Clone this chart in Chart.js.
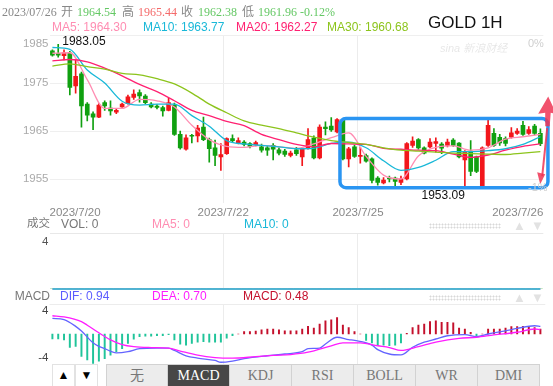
<!DOCTYPE html>
<html>
<head>
<meta charset="utf-8">
<script src="https://cdn.jsdelivr.net/npm/chart.js@4/dist/chart.umd.min.js"></script>
<style>
  body { margin: 0; width: 553px; height: 386px; overflow: hidden; background: #fff; position: relative;
         font-family: 'Liberation Sans', Arial, 'Noto Sans CJK SC', sans-serif; }
  canvas { position: absolute; left: 0; }
  .t { position: absolute; white-space: nowrap; line-height: 1; }
  .serif { font-family: 'Liberation Serif', 'Noto Sans CJK SC', serif; font-size: 12px; }
  .grab { position: absolute; height: 6px; width: 72px;
          background-image: radial-gradient(#d8d8d8 0.9px, transparent 1.1px); background-size: 3px 3px; }
  .btn { position: absolute; top: 364px; height: 21px; width: 21px; border: 1px solid #e2e2e2; background: #fff;
         font-size: 12px; text-align: center; line-height: 21px; color: #000; }
  #tabs { position: absolute; left: 106px; top: 364px; height: 22px; display: flex; }
  #tabs div { width: 61px; height: 21px; border: 1px solid #d2d2d2; border-left: none; background: #ececec;
              font-family: 'Liberation Serif', 'Noto Sans CJK SC', serif; font-size: 14px; color: #777;
              text-align: center; line-height: 21px; }
  #tabs div:first-child { border-left: 1px solid #d2d2d2; width: 60px; }
  #tabs div.on { background: #474747; color: #fff; }
</style>
</head>
<body>
<canvas id="main" width="553" height="222" style="top:0"></canvas>
<canvas id="vol" width="553" height="67" style="top:228px"></canvas>
<canvas id="macd" width="553" height="66" style="top:298px"></canvas>

<div id="overlay"></div>

<script>
// --- candle data (1H gold) ---
const opens = [1981.7,1981.2,1980.7,1981.3,1974.4,1976.9,1970.6,1968.6,1967.9,1970.9,
  1969.8,1968.9,1970.0,1970.7,1972.0,1973.0,1972.3,1970.6,1970.2,1969.9,
  1969.3,1970.4,1964.3,1961.2,1964.1,1964.0,1965.8,1963.2,1961.5,1959.6,
  1960.3,1963.4,1962.5,1962.7,1962.4,1962.1,1961.7,1961.5,1962.0,1961.1,
  1960.8,1959.9,1961.1,1959.6,1961.4,1963.5,1959.4,1965.8,1966.0,1964.8,
  1967.2,1959.2,1961.7,1959.7,1959.9,1959.2,1955.2,1954.2,1955.2,1955.2,
  1954.3,1955.0,1962.0,1963.2,1961.5,1961.7,1962.4,1962.3,1962.0,1963.1,
  1962.5,1959.0,1960.8,1959.6,1953.3,1962.0,1964.5,1963.7,1963.4,1963.7,
  1964.5,1966.2,1964.5,1966.0,1964.54];
const highs = [1981.9,1983.05,1981.9,1981.6,1979.8,1977.3,1970.9,1969.0,1970.7,1971.3,
  1971.3,1969.6,1970.8,1972.5,1973.6,1973.6,1972.6,1970.9,1970.5,1970.2,
  1971.8,1970.8,1965.0,1964.2,1964.3,1966.2,1967.9,1963.5,1963.1,1962.4,
  1963.6,1964.2,1963.6,1963.0,1962.6,1962.9,1962.3,1961.8,1962.4,1961.5,
  1961.2,1960.8,1961.6,1961.6,1965.5,1964.0,1966.3,1966.9,1967.8,1967.6,
  1967.4,1961.6,1962.0,1961.6,1960.2,1959.4,1955.5,1955.3,1955.6,1955.4,
  1955.6,1962.6,1963.8,1963.4,1961.7,1963.4,1963.6,1962.6,1963.3,1963.4,
  1962.6,1960.9,1963.0,1959.8,1961.7,1967.3,1965.5,1964.3,1963.8,1965.7,
  1965.5,1967.0,1965.9,1966.4,1965.44];
const lows = [1980.6,1980.4,1979.8,1972.5,1972.9,1965.8,1967.1,1965.3,1967.8,1969.3,
  1968.3,1968.6,1969.9,1970.6,1971.6,1971.0,1970.7,1969.8,1969.6,1968.1,
  1969.2,1964.1,1961.2,1961.0,1962.5,1962.7,1963.0,1958.5,1957.8,1956.8,
  1960.1,1962.8,1962.3,1961.9,1961.5,1961.9,1960.6,1959.9,1959.0,1960.0,
  1959.7,1959.6,1959.9,1957.8,1961.2,1959.2,1959.2,1964.2,1964.9,1964.6,
  1959.0,1957.5,1959.5,1958.3,1958.5,1954.2,1953.7,1954.0,1954.4,1953.3,
  1953.8,1954.8,1961.6,1961.2,1960.2,1961.5,1960.6,1960.3,1961.7,1961.8,
  1959.4,1953.09,1955.7,1956.3,1953.2,1961.8,1961.8,1962.0,1961.9,1963.5,
  1964.3,1964.1,1964.3,1964.2,1961.96];
const closes = [1980.8,1980.8,1981.3,1974.1,1976.4,1970.2,1968.3,1967.9,1970.4,1970.2,
  1969.2,1969.3,1970.6,1972.1,1972.7,1972.3,1970.9,1970.0,1969.9,1969.2,
  1970.9,1964.3,1961.5,1963.6,1963.9,1965.6,1963.2,1961.3,1959.9,1960.1,
  1963.4,1963.0,1963.0,1962.2,1961.8,1962.6,1961.0,1961.0,1961.2,1960.4,
  1960.1,1960.4,1960.3,1961.4,1963.2,1959.4,1965.8,1965.5,1965.2,1967.4,
  1959.2,1961.3,1959.7,1959.9,1958.7,1954.7,1954.3,1954.8,1955.0,1954.5,
  1955.0,1962.4,1962.9,1961.5,1960.4,1962.7,1962.8,1961.4,1962.7,1962.0,
  1959.6,1960.6,1956.6,1956.6,1961.5,1966.2,1962.0,1962.5,1962.4,1964.6,
  1965.0,1964.3,1965.3,1964.5,1962.38];

// moving averages, read every 3 candles
const maIdx = [0,3,6,9,12,15,18,21,24,27,30,33,36,39,42,45,48,51,54,57,60,63,66,69,72,75,78,81,84];
const ma5  = [1981.2,1981.3,1975.7,1969.7,1969.7,1971.6,1971.3,1970.0,1966.2,1963.2,1961.8,1961.6,1962.0,1961.7,1961.4,1962.3,1963.6,1964.6,1959.7,1955.8,1955.0,1959.8,1961.6,1961.9,1961.0,1961.5,1963.3,1963.8,1964.3];
const ma10 = [1982.4,1982.0,1977.7,1975.0,1971.2,1970.4,1970.6,1970.6,1968.2,1966.0,1963.0,1962.3,1962.0,1961.7,1961.3,1961.4,1962.4,1962.7,1961.5,1958.8,1956.8,1957.4,1958.9,1960.7,1960.7,1960.9,1961.3,1962.2,1963.8];
const ma20 = [1979.6,1979.9,1979.4,1978.1,1976.5,1974.7,1973.2,1971.3,1969.3,1968.2,1967.0,1966.1,1964.3,1963.2,1962.2,1961.7,1962.4,1962.3,1962.2,1961.4,1961.2,1961.0,1960.9,1960.2,1959.5,1960.0,1961.0,1961.8,1962.3];
const ma30 = [1978.5,1979.0,1978.4,1977.9,1977.0,1976.7,1975.9,1974.8,1972.9,1970.6,1968.8,1967.1,1966.2,1965.5,1964.6,1963.7,1963.0,1962.6,1962.2,1961.5,1961.0,1960.8,1960.6,1960.4,1960.3,1960.2,1960.1,1960.4,1960.7];

// volume panel (all zero in this feed)
const volumes = opens.map(() => 0);
const volMa5 = opens.map(() => 0);
const volMa10 = opens.map(() => 0);

// MACD
const macdHist = [-0.85,-0.85,-1.0,-2.3,-2.1,-3.8,-4.4,-5.0,-4.6,-4.2,-3.6,-3.0,-2.5,-1.6,-0.9,-0.45,-0.35,-0.35,-0.3,-0.3,
  -0.1,-1.0,-1.75,-1.9,-1.6,-1.4,-1.3,-1.4,-1.4,-1.4,-0.7,-0.3,0,0.4,0.4,0.5,0.7,0.85,
  0.85,0.7,0.55,0.55,0.55,0.85,1.3,1.0,1.7,2.25,2.4,2.8,1.5,1.1,0.4,0,
  -1.1,-1.5,-2.0,-1.9,-2.0,-1.9,-1.5,0.1,
  1.1,1.5,1.7,2.1,2.25,2.0,2.0,1.9,1.0,0.85,0.3,-0.3,0,
  0.85,0.85,0.85,1.0,1.25,1.25,1.3,1.3,1.1,0.85];
const difIdx = [0,2,4,5,7,8,9,11,13,15,18,20,21,23,25,28,29,31,33,37,40,43,44,46,47,49,51,52,55,56,58,60,62,64,66,68,71,73,75,78,80,83,84];
const difVals = [2.65,2.45,1.3,0.5,-1.5,-2.1,-2.5,-3.2,-3.0,-2.5,-2.4,-2.4,-2.8,-3.7,-4.1,-4.5,-4.8,-4.6,-4.2,-3.7,-3.4,-3.0,-2.5,-2.4,-1.7,-0.55,-0.95,-1.1,-1.9,-2.65,-3.4,-3.55,-2.25,-1.4,-0.85,-0.3,-0.1,-0.45,0,0.55,0.95,1.4,1.3];
const deaIdx = [0,2,5,6,8,10,12,14,17,20,22,25,28,31,35,38,41,44,48,50,53,56,58,60,63,66,70,73,76,80,83,84];
const deaVals = [3.1,2.9,2.1,1.5,0.2,-1.0,-1.8,-2.15,-2.3,-2.4,-2.9,-3.6,-4.0,-4.1,-3.85,-3.65,-3.5,-3.1,-2.0,-1.5,-1.5,-2.0,-2.3,-2.8,-2.15,-1.4,-0.75,-0.55,-0.15,0.3,0.85,0.75];

// axes
const dayLabels = ['2023/7/20', '2023/7/22', '2023/7/25', '2023/7/26'];
const dayTickIdx = [-0.5, 29.4, 52.6, 84.5];
const priceTicks = [1955, 1965, 1975, 1985];
const volTicks = [4];
const macdTicks = [4, -4];
const pctLabels = ['0%', '-1%'];

// header texts
const quote = { date: '2023/07/26', open: '1964.54', high: '1965.44', close: '1962.38', low: '1961.96', chg: '-0.12%' };
const maHead = [['MA5', '1964.30'], ['MA10', '1963.77'], ['MA20', '1962.27'], ['MA30', '1960.68']];
const macdHead = [['DIF', '0.94'], ['DEA', '0.70'], ['MACD', '0.48']];
const tabs = ['无', 'MACD', 'KDJ', 'RSI', 'BOLL', 'WR', 'DMI'];

const UP = '#f2161b', DOWN = '#10a010';
const MA_COLORS = ['#ff8db2', '#19b8d8', '#ff2171', '#8cc41c'];
const N = opens.length;

Chart.defaults.font.family = "'Liberation Sans', Arial, sans-serif";
Chart.defaults.animation = false;

// ---- overlay text ----
const ov = document.getElementById('overlay');
function txt(s, x, y, css) {
  const d = document.createElement('div');
  d.className = 't';
  d.textContent = s;
  d.style.left = x + 'px';
  d.style.top = y + 'px';
  Object.assign(d.style, css || {});
  ov.appendChild(d);
  return d;
}
const Q_GREEN = '#64c864', Q_RED = '#f46a6a';
[[quote.date, 2, '#888'], ['开', 61, '#888'], [quote.open, 77, Q_GREEN], ['高', 122, '#888'],
 [quote.high, 138, Q_RED], ['收', 181, '#888'], [quote.close, 198, Q_GREEN], ['低', 242, '#888'],
 [quote.low + ' ' + quote.chg, 258, Q_GREEN]].forEach(([s, x, c]) => {
  const d = txt(s, x, 6, { color: c });
  d.classList.add('serif');
});
[52, 143, 236, 327].forEach((x, i) => txt(maHead[i][0] + ': ' + maHead[i][1], x, 21, { color: MA_COLORS[i], fontSize: '12px' }));
txt('GOLD 1H', 428, 14, { fontSize: '17px', color: '#111' });
txt('sina 新浪财经', 440, 43, { fontSize: '11px', color: 'rgba(0,0,0,0.1)', fontStyle: 'italic' });
txt(pctLabels[0], 528, 38, { fontSize: '11px', color: '#cfcfcf' });
txt(pctLabels[1], 528, 182, { fontSize: '11px', color: '#cfcfcf' });

// volume header
txt('成交', 4, 218, { fontSize: '11.5px', color: '#777', width: '46px', textAlign: 'right' });
txt('VOL: 0', 61, 218, { fontSize: '12px', color: '#777' });
txt('MA5: 0', 152, 218, { fontSize: '12px', color: MA_COLORS[0] });
txt('MA10: 0', 244, 218, { fontSize: '12px', color: MA_COLORS[1] });
// macd header
txt('MACD', 0, 290, { fontSize: '12px', color: '#777', width: '50px', textAlign: 'right' });
txt(macdHead[0][0] + ': ' + macdHead[0][1], 60, 290, { fontSize: '12px', color: '#5c5cff' });
txt(macdHead[1][0] + ': ' + macdHead[1][1], 152, 290, { fontSize: '12px', color: '#ff1cff' });
txt(macdHead[2][0] + ': ' + macdHead[2][1], 243, 290, { fontSize: '12px', color: '#c4102c' });
[223, 295].forEach(y => {
  const g = document.createElement('div');
  g.className = 'grab';
  g.style.left = '429px'; g.style.top = y + 'px';
  ov.appendChild(g);
  txt('▲', 513, y - 4, { fontSize: '13px', color: '#e2e2e2' });
  txt('▼', 531, y - 4, { fontSize: '13px', color: '#e2e2e2' });
});
// buttons and tabs
[['▲', 52], ['▼', 75]].forEach(([s, x]) => {
  const b = document.createElement('div');
  b.className = 'btn'; b.textContent = s; b.style.left = x + 'px';
  document.body.appendChild(b);
});
const tabBar = document.createElement('div');
tabBar.id = 'tabs';
tabs.forEach(t => {
  const d = document.createElement('div');
  d.textContent = t;
  if (t === 'MACD') d.className = 'on';
  tabBar.appendChild(d);
});
document.body.appendChild(tabBar);

// ---- chart helpers ----
function xScale(showLabels, h) {
  return {
    type: 'linear', min: -0.5, max: N - 0.5, offset: false,
    afterBuildTicks: s => { s.ticks = dayTickIdx.map(v => ({ value: v })); },
    grid: {
      offset: false, drawTicks: false, lineWidth: 1,
      color: c => (c.index === 0 || c.index === dayTickIdx.length - 1) ? 'rgba(0,0,0,0)' : '#ececec'
    },
    border: { display: false },
    ticks: {
      display: showLabels, autoSkip: false, maxRotation: 0, align: 'inner', padding: 3,
      color: '#888', font: { size: 11.5 }, callback: (v, i) => dayLabels[i]
    },
    afterFit: s => { s.height = h; s.paddingLeft = 0; s.paddingRight = 0; }
  };
}
function yScale(min, max, ticks, color, gridColor, topLabel) {
  return {
    min, max,
    afterBuildTicks: s => { s.ticks = ticks.map(v => ({ value: v })); },
    grid: { color: gridColor, drawTicks: false },
    border: { display: false },
    ticks: {
      color, padding: 1, font: { size: 11.5, lineHeight: 1.55 },
      callback: v => v === topLabel ? ['', String(v)] : String(v)
    },
    // fixed gutter, no automatic label padding above/below the plot
    afterFit: s => { s.width = 49.5; s.paddingTop = 0; s.paddingBottom = 0; }
  };
}
const candleColor = i => closes[i] >= opens[i] ? UP : DOWN;

// ---- annotations & extremes on price panel ----
const pricePlugin = {
  id: 'priceMarks',
  afterDatasetsDraw(chart) {
    const { ctx, scales: { x, y } } = chart;
    const hi = Math.max(...highs), lo = Math.min(...lows);
    const hiI = highs.indexOf(hi), loI = lows.indexOf(lo);
    ctx.save();
    ctx.font = "12px 'Liberation Sans', Arial";
    ctx.fillStyle = '#111';
    ctx.textBaseline = 'middle';
    ctx.textAlign = 'left';
    ctx.fillText(hi.toFixed(2), x.getPixelForValue(hiI) + 4, y.getPixelForValue(hi) - 3);
    ctx.textAlign = 'right';
    ctx.fillText(lo.toFixed(2), x.getPixelForValue(loI), y.getPixelForValue(lo) + 8);

    // hand-drawn highlight box
    const bx0 = x.getPixelForValue(49.5), bx1 = x.getPixelForValue(85.3);
    const by0 = y.getPixelForValue(1967.6), by1 = y.getPixelForValue(1953.2);
    ctx.strokeStyle = '#2a95f2';
    ctx.lineWidth = 3.5;
    ctx.beginPath();
    ctx.roundRect(bx0, by0, bx1 - bx0, by1 - by0, 6);
    ctx.stroke();

    // red arrows on the right edge
    const ax = x.getPixelForValue(85.0);
    const Y = p => y.getPixelForValue(p);
    ctx.fillStyle = 'rgba(238,52,84,0.85)';
    ctx.strokeStyle = 'rgba(238,52,84,0.85)';
    ctx.beginPath();
    ctx.moveTo(ax + 2, Y(1972.2));
    ctx.lineTo(ax + 10, Y(1968.6));
    ctx.lineTo(ax + 4.5, Y(1968.8));
    ctx.lineTo(ax + 3.5, Y(1966.0));
    ctx.lineTo(ax - 1, Y(1966.0));
    ctx.lineTo(ax - 1, Y(1968.8));
    ctx.lineTo(ax - 8, Y(1968.6));
    ctx.closePath();
    ctx.fill();
    ctx.lineWidth = 2;
    ctx.beginPath();
    ctx.moveTo(ax + 1, Y(1965.6));
    ctx.lineTo(ax - 4, Y(1955.6));
    ctx.stroke();
    ctx.beginPath();
    ctx.moveTo(ax - 6, Y(1953.9));
    ctx.lineTo(ax - 9, Y(1956.4));
    ctx.lineTo(ax - 1, Y(1956.0));
    ctx.closePath();
    ctx.fill();
    ctx.restore();
  }
};

const topLine = {
  id: 'topLine',
  afterDraw(chart) {
    const { ctx, chartArea: a } = chart;
    ctx.save();
    ctx.strokeStyle = '#ececec';
    ctx.lineWidth = 1;
    ctx.beginPath();
    ctx.moveTo(a.left, a.top + 0.5);
    ctx.lineTo(a.right + 2, a.top + 0.5);
    ctx.stroke();
    ctx.restore();
  }
};

const maLine = (vals, color) => ({
  type: 'line', data: maIdx.map((x, k) => ({ x, y: vals[k] })), borderColor: color,
  borderWidth: 1.3, pointRadius: 0, cubicInterpolationMode: 'monotone', order: 0
});

// ---- price panel ----
new Chart(document.getElementById('main'), {
  type: 'bar',
  data: {
    datasets: [
      maLine(ma30, MA_COLORS[3]), maLine(ma20, MA_COLORS[2]), maLine(ma10, MA_COLORS[1]), maLine(ma5, MA_COLORS[0]),
      { type: 'bar', data: opens.map((o, i) => ({ x: i, y: [lows[i], highs[i]] })),
        backgroundColor: c => candleColor(c.dataIndex), barThickness: 1, grouped: false, order: 3 },
      { type: 'bar', data: opens.map((o, i) => ({ x: i, y: [o, closes[i]] })),
        backgroundColor: c => candleColor(c.dataIndex), barThickness: 4, minBarLength: 1, grouped: false, order: 2 }
    ]
  },
  options: {
    responsive: false, devicePixelRatio: 1,
    layout: { padding: { top: 35, right: 9.7, bottom: 0, left: 0 } },
    plugins: { legend: { display: false }, tooltip: { enabled: false } },
    scales: {
      x: xScale(true, 19),
      y: yScale(1950, 1985, priceTicks, '#aaa', '#efefef', 1985)
    }
  },
  plugins: [pricePlugin]
});

// ---- volume panel ----
new Chart(document.getElementById('vol'), {
  type: 'bar',
  data: {
    datasets: [
      { type: 'bar', data: volumes.map((v, i) => ({ x: i, y: v })), backgroundColor: c => candleColor(c.dataIndex),
        barThickness: 4, grouped: false, order: 2 },
      { type: 'line', data: volMa5.map((v, i) => ({ x: i, y: v })), borderColor: MA_COLORS[0], borderWidth: 1.3,
        pointRadius: 0, clip: false, order: 1 },
      { type: 'line', data: volMa10.map((v, i) => ({ x: i, y: v })), borderColor: MA_COLORS[1], borderWidth: 1.3,
        pointRadius: 0, clip: false, order: 0 }
    ]
  },
  options: {
    responsive: false, devicePixelRatio: 1,
    layout: { padding: { top: 5, right: 9.7, bottom: 6, left: 0 } },
    plugins: { legend: { display: false }, tooltip: { enabled: false } },
    scales: {
      x: xScale(false, 0),
      y: yScale(0, 4, volTicks, '#555', '#e8e8e8', 4)
    }
  }
});

// ---- MACD panel ----
new Chart(document.getElementById('macd'), {
  type: 'bar',
  data: {
    datasets: [
      { type: 'line', data: deaIdx.map((x, k) => ({ x, y: deaVals[k] })), borderColor: '#ff1cff', borderWidth: 1.3,
        pointRadius: 0, cubicInterpolationMode: 'monotone', order: 0 },
      { type: 'line', data: difIdx.map((x, k) => ({ x, y: difVals[k] })), borderColor: '#6464ff', borderWidth: 1.3,
        pointRadius: 0, cubicInterpolationMode: 'monotone', order: 1 },
      { type: 'bar', data: macdHist.map((v, i) => ({ x: i, y: v })),
        backgroundColor: c => macdHist[c.dataIndex] >= 0 ? '#c4102c' : '#20c49a', barThickness: 1.3, grouped: false, order: 2 }
    ]
  },
  options: {
    responsive: false, devicePixelRatio: 1,
    layout: { padding: { top: 6, right: 9.7, bottom: 0, left: 0 } },
    plugins: { legend: { display: false }, tooltip: { enabled: false } },
    scales: {
      x: xScale(false, 0),
      y: yScale(-5.1, 5.1, macdTicks, '#444', 'rgba(0,0,0,0)', null)
    }
  },
  plugins: [topLine]
});
</script>
</body>
</html>
